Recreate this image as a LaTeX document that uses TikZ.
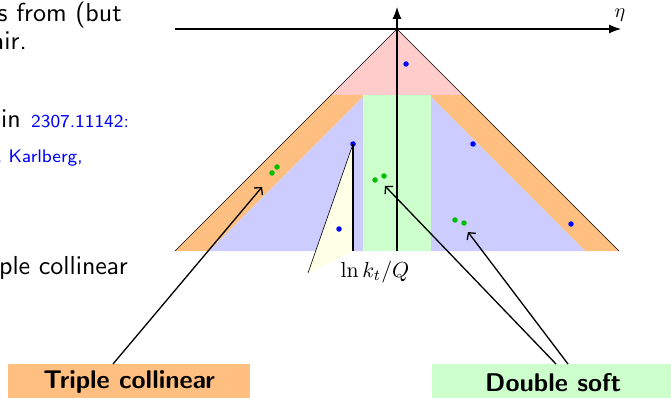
\documentclass[tikz,border=0pt]{standalone}
\usetikzlibrary{arrows.meta}
\font\sfbig=cmss10 at 26pt
\font\sfbigbf=cmssbx10 at 25.6pt
\font\sfsmall=cmss8 at 18.2pt
\begin{document}
\begin{tikzpicture}[x=1pt,y=-1pt,
  bigtxt/.style={font=\sfbig, inner sep=0pt},
  smalltxt/.style={font=\sfsmall, text=blue, inner sep=0pt},
  bdot/.style={circle, fill=blue, inner sep=0pt, minimum size=5.5pt},
  gdot/.style={circle, fill=green!75!black, inner sep=0pt, minimum size=5.5pt},
  labbox/.style={font=\sfbigbf, minimum width=242pt, minimum height=36pt, inner sep=0pt, anchor=north west},
  axis/.style={line width=1.1pt, -{Latex[length=12pt,width=9pt]}},
  pointer/.style={line width=1.3pt, -{Straight Barb[length=5pt,width=11pt]}}]
\useasboundingbox (0,0) rectangle (671,398);
\clip (0,0) rectangle (671,398);
% regions
\fill[red!20] (397,29) -- (331,95) -- (463,95) -- cycle;
\fill[orange!50] (175,251) -- (331,95) -- (365,95) -- (209,251) -- cycle;
\fill[orange!50] (619,251) -- (463,95) -- (429,95) -- (585,251) -- cycle;
\fill[blue!20] (209,251) -- (365,95) -- (397,95) -- (397,251) -- cycle;
\fill[blue!20] (585,251) -- (429,95) -- (397,95) -- (397,251) -- cycle;
\fill[green!20] (363,95) rectangle (431,251);
\fill[yellow!10] (308,273) -- (353,144) -- (353,251) -- cycle;
% outline
\draw[line width=0.6pt] (175,251) -- (397,29) -- (619,251);
% axes
\coordinate (hL) at (175,29);
\coordinate (hR) at (621,29);
\coordinate (vB) at (397,251);
\coordinate (vT) at (397,7);
\draw[axis] (hL) -- (hR);
\draw[axis] (vB) -- (vT);
\node[inner sep=0pt] (eta) at (620,15) {\scalebox{2}{$\eta$}};
% secondary plane
\node[bdot] (b2) at (353,144) {};
\coordinate (cL) at (308,273);
\coordinate (cB) at (353,251);
\draw[line width=0.6pt] (b2.center) -- (cL);
\draw[line width=1.1pt] (b2.center) -- (cB);
\node[inner sep=0pt] (lnk) at (375,272) {\scalebox{2.17}{$\ln k_t/Q$}};
% dots
\node[bdot] (b1) at (406,64) {};
\node[bdot] (b3) at (339,229) {};
\node[bdot] (b4) at (473,144) {};
\node[bdot] (b5) at (571,224) {};
\node[gdot] (g1) at (277,167) {};
\node[gdot] (g2) at (272,173) {};
\node[gdot] (g3) at (375,180) {};
\node[gdot] (g4) at (384,176) {};
\node[gdot] (g5) at (455,220) {};
\node[gdot] (g6) at (464,223) {};
% slide text fragments
\node[bigtxt, anchor=base east] (t1) at (122,22) {s from (but};
\node[bigtxt, anchor=base east] (t2) at (27,50) {air.};
\node[bigtxt, anchor=base east] (t3a) at (21,128) {in};
\node[smalltxt, anchor=base west] (t3b) at (31,128) {2307.11142:};
\node[smalltxt, anchor=base east] (t4) at (83,163) {, Karlberg,};
\node[bigtxt, anchor=base east] (t5) at (128,274) {ple collinear};
% label boxes
\node[labbox, fill=orange!50] (tc) at (8,364) {Triple collinear};
\node[labbox, fill=green!20] (ds) at (432,364) {Double soft};
\coordinate (tcS) at (113,364);
\coordinate (tcT) at (262,187);
\coordinate (dsS1) at (556,364);
\coordinate (dsT1) at (385,186);
\coordinate (dsS2) at (568,364);
\coordinate (dsT2) at (468,232);
\draw[pointer] (tcS) -- (tcT);
\draw[pointer] (dsS1) -- (dsT1);
\draw[pointer] (dsS2) -- (dsT2);
\end{tikzpicture}
\end{document}
